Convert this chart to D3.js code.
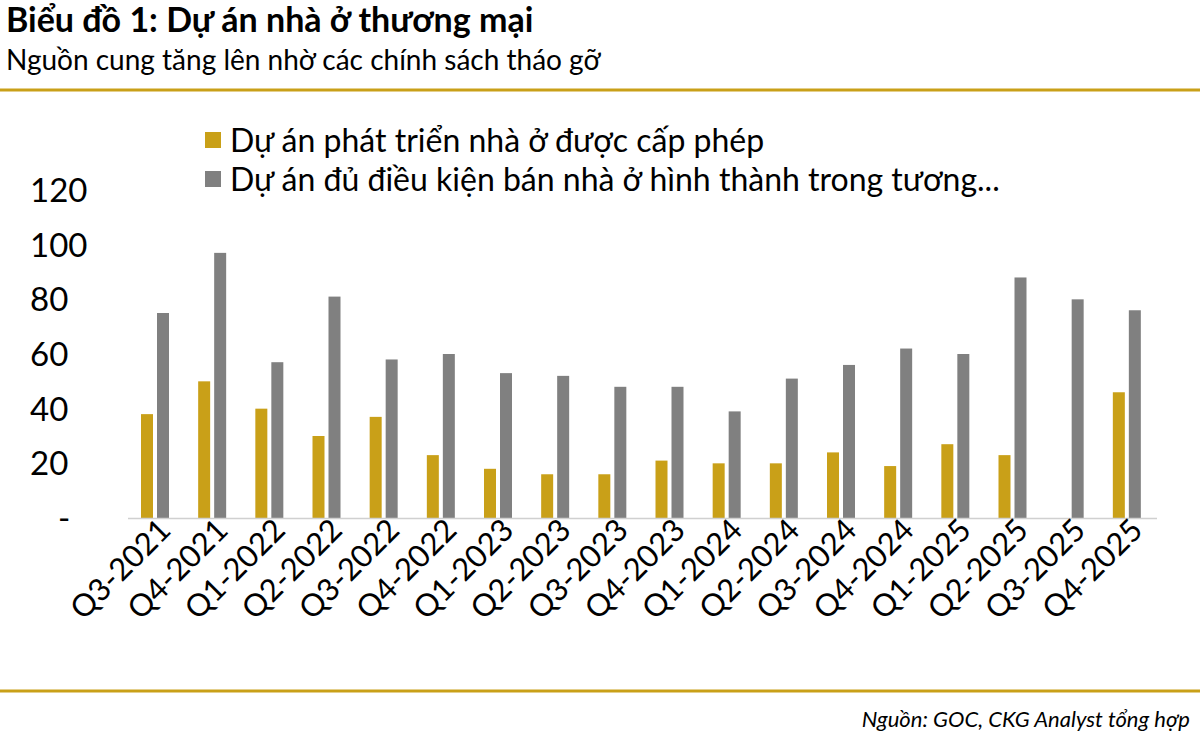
<!DOCTYPE html><html><head><meta charset="utf-8"><script src="https://cdn.jsdelivr.net/npm/d3@7"></script>
<style>body{margin:0;background:#fff;font-family:Lato,sans-serif}</style></head><body><svg id="c" width="1200" height="738"></svg>
<script>
const categories=["Q3-2021","Q4-2021","Q1-2022","Q2-2022","Q3-2022","Q4-2022","Q1-2023","Q2-2023","Q3-2023","Q4-2023","Q1-2024","Q2-2024","Q3-2024","Q4-2024","Q1-2025","Q2-2025","Q3-2025","Q4-2025"];
const licensed=[38,50,40,30,37,23,18,16,16,21,20,20,24,19,27,23,null,46];
const eligible=[75,97,57,81,58,60,53,52,48,48,39,51,56,62,60,88,80,76];
const yTicks=[0,20,40,60,80,100,120];
const gold="#C9A018", gray="#808080";
const svg=d3.select("#c");
svg.append("text").attr("x",6).attr("y",32).attr("font-size",34).attr("font-weight",700).text("Biểu đồ 1: Dự án nhà ở thương mại");
svg.append("text").attr("x",6).attr("y",70).attr("font-size",28).text("Nguồn cung tăng lên nhờ các chính sách tháo gỡ");
[90,691].forEach(y=>svg.append("line").attr("x1",0).attr("x2",1200).attr("y1",y).attr("y2",y).attr("stroke",gold).attr("stroke-width",3));
svg.append("text").attr("x",1190).attr("y",727).attr("text-anchor","end").attr("font-size",22).attr("font-style","italic").text("Nguồn: GOC, CKG Analyst tổng hợp");
const x=d3.scaleBand().domain(categories).range([128,1157]);
const y=d3.scaleLinear().domain([0,120]).range([518,190]);
const g=svg.append("g");
g.selectAll(".a").data(categories).join("rect").filter((d,i)=>licensed[i]!=null)
 .attr("x",d=>x(d)+13).attr("width",12).attr("y",(d)=>y(licensed[categories.indexOf(d)])).attr("height",d=>518-y(licensed[categories.indexOf(d)])).attr("fill",gold);
g.selectAll(".b").data(categories).join("rect")
 .attr("x",d=>x(d)+29).attr("width",12).attr("y",(d,i)=>y(eligible[i])).attr("height",(d,i)=>518-y(eligible[i])).attr("fill",gray);
svg.append("line").attr("x1",128).attr("x2",1157).attr("y1",518.5).attr("y2",518.5).attr("stroke","#d0d0d0").attr("stroke-width",1.5);
svg.selectAll(".yt").data(yTicks).join("text").attr("x",d=>d===0?58:30).attr("y",d=>y(d)+12).attr("font-size",33).text(d=>d===0?"-":d);
svg.selectAll(".xt").data(categories).join("text").attr("font-size",31).attr("text-anchor","end")
 .attr("transform",d=>`translate(${x(d)+x.bandwidth()/2+16},${532}) rotate(-45)`).text(d=>d);
const leg=[["Dự án phát triển nhà ở được cấp phép",gold],["Dự án đủ điều kiện bán nhà ở hình thành trong tương...",gray]];
leg.forEach((l,i)=>{svg.append("rect").attr("x",205).attr("y",132+i*39).attr("width",16).attr("height",16).attr("fill",l[1]);
svg.append("text").attr("x",230).attr("y",152+i*39).attr("font-size",32).text(l[0]);});
</script></body></html>
